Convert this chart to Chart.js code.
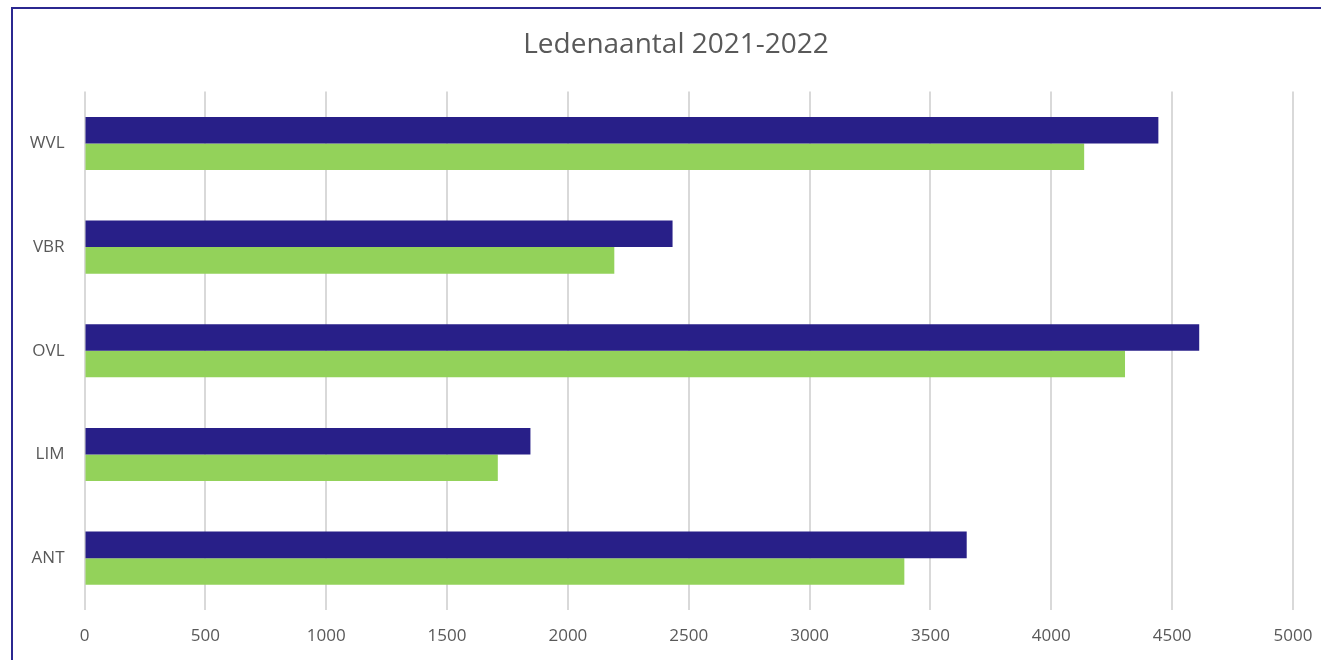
<!DOCTYPE html>
<html>
<head>
<meta charset="utf-8">
<script src="https://cdn.jsdelivr.net/npm/chart.js@4"></script>
<style>
  html, body { margin: 0; padding: 0; background: #fff; overflow: hidden; }
  #frame {
    position: absolute; left: 11px; top: 7px;
    width: 1326px; height: 670px;
    border: 2px solid #2b2890;
  }
  #myChart { display: block; }
</style>
</head>
<body>
<div id="frame"><canvas id="myChart" width="1326" height="670"></canvas></div>
<script>
const regions = ['WVL', 'VBR', 'OVL', 'LIM', 'ANT'];
const seriesNames = ['Reeks1', 'Reeks2'];
const blueValues = [4443, 2433, 4612, 1845, 3650];
const greenValues = [4136, 2192, 4305, 1710, 3392];
const xTicks = [0, 500, 1000, 1500, 2000, 2500, 3000, 3500, 4000, 4500, 5000];

runChart();
function runChart(){
    const ctx = document.getElementById('myChart').getContext('2d');
    const fontFamily = "'Open Sans', 'Liberation Sans', sans-serif";
    const myChart = new Chart(ctx, {
        type: 'bar',
        data: {
            labels: regions,
            datasets: [{
                label: seriesNames[0],
                data: blueValues,
                backgroundColor: '#281f88',
                categoryPercentage: 0.512,
                barPercentage: 1
            }, {
                label: seriesNames[1],
                data: greenValues,
                backgroundColor: '#93d25a',
                categoryPercentage: 0.512,
                barPercentage: 1
            }]
        },
        options: {
            indexAxis: 'y',
            responsive: false,
            animation: false,
            layout: { padding: 0 },
            plugins: {
                legend: { display: false },
                tooltip: { enabled: false },
                title: {
                    display: true,
                    text: 'Ledenaantal 2021-2022',
                    color: '#595959',
                    font: { family: fontFamily, size: 28, weight: 'normal' },
                    padding: { top: 19, bottom: 30 }
                }
            },
            scales: {
                x: {
                    min: xTicks[0],
                    max: xTicks[xTicks.length - 1],
                    afterBuildTicks: function (scale) {
                        scale.ticks = xTicks.map(v => ({ value: v }));
                    },
                    afterFit: function (scale) { scale.height = 69; },
                    grid: { color: '#d9d9d9', lineWidth: 2, drawTicks: false },
                    border: { display: false },
                    ticks: {
                        color: '#595959',
                        padding: 16,
                        font: { family: fontFamily, size: 17 },
                        callback: function (value) { return String(value); }
                    }
                },
                y: {
                    afterFit: function (scale) { scale.width = 71.5; },
                    grid: { display: false, drawTicks: false },
                    border: { display: false },
                    ticks: {
                        color: '#595959',
                        padding: 20,
                        font: { family: fontFamily, size: 17 }
                    }
                },
                // empty right-hand spacer so the plot ends where the original does
                spacer: {
                    type: 'linear',
                    axis: 'y',
                    position: 'right',
                    afterFit: function (scale) { scale.width = 46; },
                    grid: { display: false, drawTicks: false },
                    border: { display: false },
                    ticks: { display: false }
                }
            }
        }
    });
}
</script>
</body>
</html>
